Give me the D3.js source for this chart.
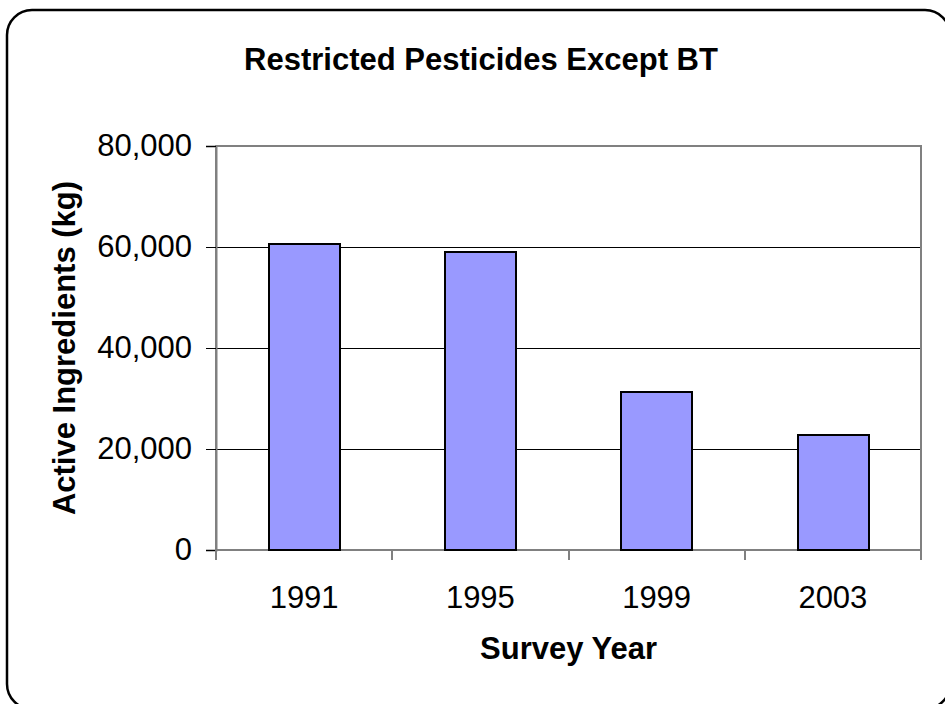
<!DOCTYPE html>
<html>
<head>
<meta charset="utf-8">
<script src="https://cdn.jsdelivr.net/npm/d3@7"></script>
<style>
  body { margin: 0; background: #fff; }
  svg { display: block; font-family: "Liberation Sans", Arial, sans-serif; }
</style>
</head>
<body>
<div id="container"></div>
<script>
// chart data
var years = ["1991", "1995", "1999", "2003"];
var amounts = [60500, 59100, 31200, 22800];
var yTicks = [0, 20000, 40000, 60000, 80000];

var w = 945, h = 704;
var margin = {left: 216, right: 24, top: 146, bottom: 154};
var fs = 31;

var svg = d3.select("#container").append("svg")
    .attr("width", w)
    .attr("height", h);

// outer chart border (rounded, runs off the bottom right)
svg.append("rect")
    .attr("x", 7).attr("y", 10)
    .attr("width", 943).attr("height", 699)
    .attr("rx", 25).attr("ry", 25)
    .attr("fill", "#fff")
    .attr("stroke", "#000")
    .attr("stroke-width", 2.5);

var x = d3.scaleBand()
    .domain(years)
    .range([margin.left, w - margin.right])
    .paddingInner(0.6)
    .paddingOuter(0.3);

var y = d3.scaleLinear()
    .domain([0, 80000])
    .range([h - margin.bottom, margin.top]);

// gridlines
svg.append("g")
  .selectAll("line")
  .data(yTicks.filter(function(d) { return d > 0 && d < 80000; }))
  .enter().append("line")
    .attr("x1", margin.left).attr("x2", w - margin.right)
    .attr("y1", function(d) { return Math.round(y(d)) + 0.5; })
    .attr("y2", function(d) { return Math.round(y(d)) + 0.5; })
    .attr("stroke", "#000")
    .attr("stroke-width", 1);

// plot area border
svg.append("rect")
    .attr("x", margin.left).attr("y", margin.top)
    .attr("width", w - margin.right - margin.left)
    .attr("height", h - margin.bottom - margin.top)
    .attr("fill", "none")
    .attr("stroke", "#808080")
    .attr("stroke-width", 2);

// bars
svg.append("g")
  .selectAll("rect")
  .data(amounts)
  .enter().append("rect")
    .attr("x", function(d, i) { return Math.round(x(years[i])); })
    .attr("y", function(d) { return Math.round(y(d)); })
    .attr("width", Math.round(x.bandwidth()))
    .attr("height", function(d) { return Math.round(y(0)) - Math.round(y(d)); })
    .attr("fill", "#9999ff")
    .attr("stroke", "#000")
    .attr("stroke-width", 2);

// y axis
var yAxis = svg.append("g")
    .attr("transform", "translate(" + margin.left + ",0)")
    .call(d3.axisLeft(y).tickValues(yTicks).tickSize(10).tickPadding(14)
      .tickFormat(d3.format(",")));
yAxis.select(".domain").attr("stroke", "#808080").attr("stroke-width", 2);
yAxis.selectAll(".tick line").attr("stroke", "#000");
yAxis.selectAll("text")
    .attr("font-size", fs)
    .attr("font-family", "Liberation Sans, Arial, sans-serif")
    .attr("fill", "#000");

// x axis, ticks sit between categories
var xAxisG = svg.append("g")
    .attr("transform", "translate(0," + (h - margin.bottom) + ")");
var edges = d3.range(years.length + 1).map(function(i) { return margin.left + i * (w - margin.right - margin.left) / years.length; });
xAxisG.selectAll("line")
  .data(edges)
  .enter().append("line")
    .attr("x1", function(d) { return Math.round(d); }).attr("x2", function(d) { return Math.round(d); })
    .attr("y1", 0).attr("y2", 10)
    .attr("stroke", "#808080")
    .attr("stroke-width", 2);
xAxisG.selectAll("text")
  .data(years)
  .enter().append("text")
    .attr("x", function(d) { return x(d) + x.bandwidth() / 2; })
    .attr("y", 58)
    .attr("text-anchor", "middle")
    .attr("font-size", fs)
    .text(function(d) { return d; });

// titles
svg.append("text")
    .attr("x", 481)
    .attr("y", 70)
    .attr("text-anchor", "middle")
    .attr("font-size", fs)
    .attr("font-weight", "bold")
    .text("Restricted Pesticides Except BT");

svg.append("text")
    .attr("x", (margin.left + w - margin.right) / 2)
    .attr("y", 659)
    .attr("text-anchor", "middle")
    .attr("font-size", fs)
    .attr("font-weight", "bold")
    .text("Survey Year");

svg.append("text")
    .attr("transform", "translate(75," + ((margin.top + h - margin.bottom) / 2) + ") rotate(-90)")
    .attr("text-anchor", "middle")
    .attr("font-size", fs)
    .attr("font-weight", "bold")
    .text("Active Ingredients (kg)");
</script>
</body>
</html>
